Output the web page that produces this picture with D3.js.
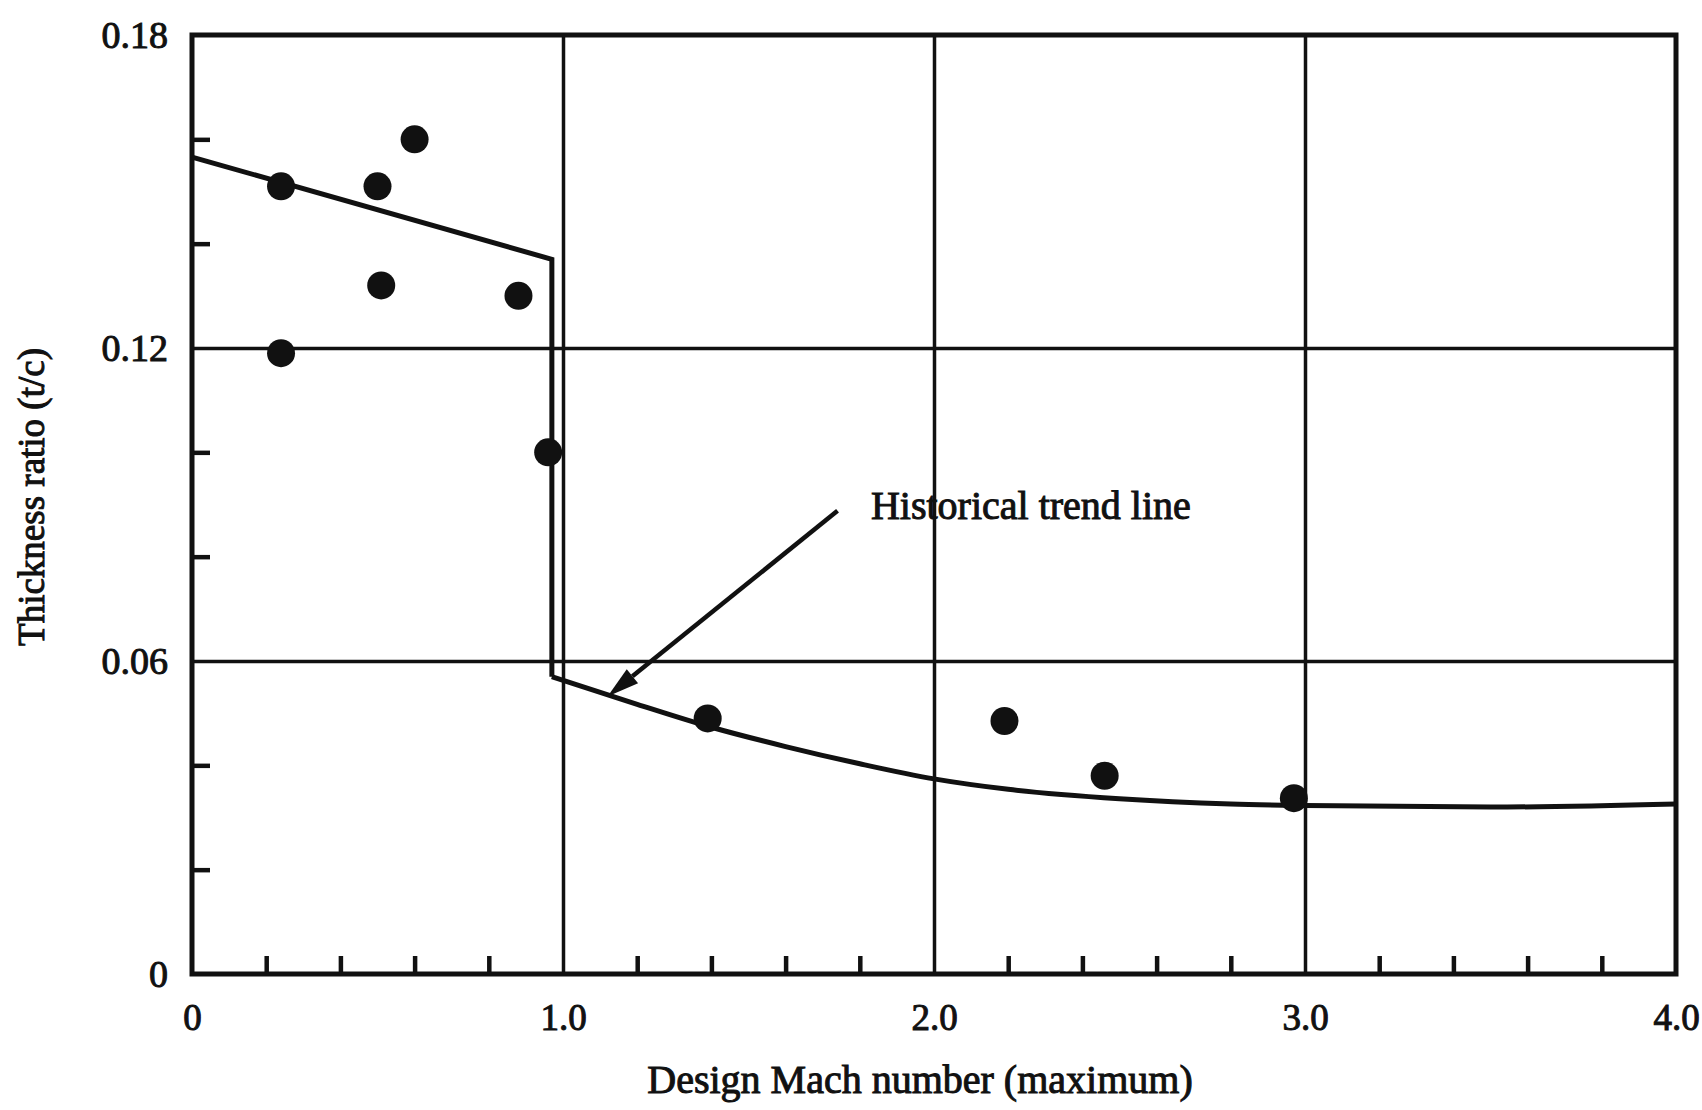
<!DOCTYPE html>
<html>
<head>
<meta charset="utf-8">
<title>Thickness ratio vs design Mach number</title>
<script src="https://d3js.org/d3.v7.min.js"></script>
<style>
body { margin: 0; background: #fff; }
text { font-family: "Liberation Serif", "Times New Roman", serif; fill: #111; }
</style>
</head>
<body>
<svg id="chart"></svg>
<script>
// values
var xTicks = [0, 1, 2, 3, 4];
var xTickLabels = ["0", "1.0", "2.0", "3.0", "4.0"];
var xMinor = [0.2, 0.4, 0.6, 0.8, 1.2, 1.4, 1.6, 1.8, 2.2, 2.4, 2.6, 2.8, 3.2, 3.4, 3.6, 3.8];
var yTicks = [0, 0.06, 0.12, 0.18];
var yTickLabels = ["0", "0.06", "0.12", "0.18"];
var yMinor = [0.02, 0.04, 0.08, 0.10, 0.14, 0.16];

// aircraft data points
var pointMach = [0.24, 0.50, 0.60, 0.51, 0.88, 0.24, 0.96, 1.39, 2.19, 2.46, 2.97];
var pointTc   = [0.151, 0.151, 0.160, 0.132, 0.130, 0.119, 0.100, 0.049, 0.0485, 0.038, 0.0337];

// historical trend line: straight subsonic part, drop, then supersonic curve
var trendSub = [[0, 0.1566], [0.97, 0.137], [0.97, 0.057]];
var trendSuper = [[0.97, 0.057], [1.2, 0.0517], [1.4, 0.0473], [1.6, 0.0436], [1.8, 0.0403],
                  [2.0, 0.0374], [2.2, 0.0354], [2.5, 0.0336], [2.8, 0.0326], [3.0, 0.0323],
                  [3.5, 0.0320], [4.0, 0.0326]];

var noteText = "Historical trend line";
var noteAt = [1.83, 0.0873];
var arrowFrom = [1.74, 0.0888];
var arrowTo = [1.12, 0.0532];

var W = 1702, H = 1110;
var mLeft = 192, mRight = 1676, mTop = 35, mBottom = 974;

var svg = d3.select("#chart").attr("width", W).attr("height", H);

var x = d3.scaleLinear().domain([0, 4]).range([mLeft, mRight]);
var y = d3.scaleLinear().domain([0, 0.18]).range([mBottom, mTop]);

var ink = "#111";

// grid lines
svg.append("g")
  .attr("transform", "translate(0," + mBottom + ")")
  .call(d3.axisBottom(x).tickValues([1, 2, 3]).tickSize(-(mBottom - mTop)).tickFormat(""))
  .call(function(g) { g.select(".domain").remove(); })
  .selectAll("line").attr("stroke", ink).attr("stroke-width", 3.5);

svg.append("g")
  .attr("transform", "translate(" + mLeft + ",0)")
  .call(d3.axisLeft(y).tickValues([0.06, 0.12]).tickSize(-(mRight - mLeft)).tickFormat(""))
  .call(function(g) { g.select(".domain").remove(); })
  .selectAll("line").attr("stroke", ink).attr("stroke-width", 3.5);

// minor ticks, pointing inward
svg.append("g")
  .attr("transform", "translate(0," + mBottom + ")")
  .call(d3.axisBottom(x).tickValues(xMinor).tickSize(-18).tickFormat(""))
  .call(function(g) { g.select(".domain").remove(); })
  .selectAll("line").attr("stroke", ink).attr("stroke-width", 4.5);

svg.append("g")
  .attr("transform", "translate(" + mLeft + ",0)")
  .call(d3.axisLeft(y).tickValues(yMinor).tickSize(-18).tickFormat(""))
  .call(function(g) { g.select(".domain").remove(); })
  .selectAll("line").attr("stroke", ink).attr("stroke-width", 4.5);

// frame
svg.append("rect")
  .attr("x", mLeft).attr("y", mTop)
  .attr("width", mRight - mLeft).attr("height", mBottom - mTop)
  .attr("fill", "none").attr("stroke", ink).attr("stroke-width", 5);

// tick labels
var xAxis = svg.append("g")
  .attr("transform", "translate(0," + mBottom + ")")
  .call(d3.axisBottom(x).tickValues(xTicks).tickSize(0).tickPadding(30)
    .tickFormat(function(d, i) { return xTickLabels[i]; }));
xAxis.select(".domain").remove();
xAxis.selectAll("text").attr("font-size", 37).attr("stroke", ink).attr("stroke-width", 1)
  .attr("font-family", "Liberation Serif");

var yAxis = svg.append("g")
  .attr("transform", "translate(" + mLeft + ",0)")
  .call(d3.axisLeft(y).tickValues(yTicks).tickSize(0).tickPadding(24)
    .tickFormat(function(d, i) { return yTickLabels[i]; }));
yAxis.select(".domain").remove();
yAxis.selectAll("text").attr("font-size", 38).attr("stroke", ink).attr("stroke-width", 1)
  .attr("font-family", "Liberation Serif");

// axis titles
svg.append("text")
  .attr("x", (mLeft + mRight) / 2 - 14).attr("y", 1093)
  .attr("text-anchor", "middle").attr("font-size", 40)
  .attr("stroke", ink).attr("stroke-width", 1)
  .text("Design Mach number (maximum)");

svg.append("text")
  .attr("transform", "translate(44,497) rotate(-90)")
  .attr("text-anchor", "middle").attr("font-size", 37)
  .attr("stroke", ink).attr("stroke-width", 1)
  .text("Thickness ratio (t/c)");

// trend line
var line = d3.line().x(function(d) { return x(d[0]); }).y(function(d) { return y(d[1]); });
svg.append("path").datum(trendSub)
  .attr("d", line).attr("fill", "none").attr("stroke", ink)
  .attr("stroke-width", 5).attr("stroke-linejoin", "miter");
svg.append("path").datum(trendSuper)
  .attr("d", line.curve(d3.curveMonotoneX)).attr("fill", "none").attr("stroke", ink)
  .attr("stroke-width", 5);

// data points
svg.append("g").selectAll("circle")
  .data(pointMach)
  .join("circle")
  .attr("cx", function(d) { return x(d); })
  .attr("cy", function(d, i) { return y(pointTc[i]); })
  .attr("r", 14)
  .attr("fill", ink);

// annotation
svg.append("text")
  .attr("x", x(noteAt[0])).attr("y", y(noteAt[1]))
  .attr("font-size", 40).attr("stroke", ink).attr("stroke-width", 1)
  .text(noteText);

var x0 = x(arrowFrom[0]), y0 = y(arrowFrom[1]), x1 = x(arrowTo[0]), y1 = y(arrowTo[1]);
var ang = Math.atan2(y1 - y0, x1 - x0);
var headLen = 32, headW = 9;
var bx = x1 - headLen * Math.cos(ang), by = y1 - headLen * Math.sin(ang);
svg.append("line")
  .attr("x1", x0).attr("y1", y0).attr("x2", bx).attr("y2", by)
  .attr("stroke", ink).attr("stroke-width", 4.5);
svg.append("path")
  .attr("d", "M" + x1 + "," + y1 +
    "L" + (bx + headW * Math.sin(ang)) + "," + (by - headW * Math.cos(ang)) +
    "L" + (bx - headW * Math.sin(ang)) + "," + (by + headW * Math.cos(ang)) + "Z")
  .attr("fill", ink);
</script>
</body>
</html>
